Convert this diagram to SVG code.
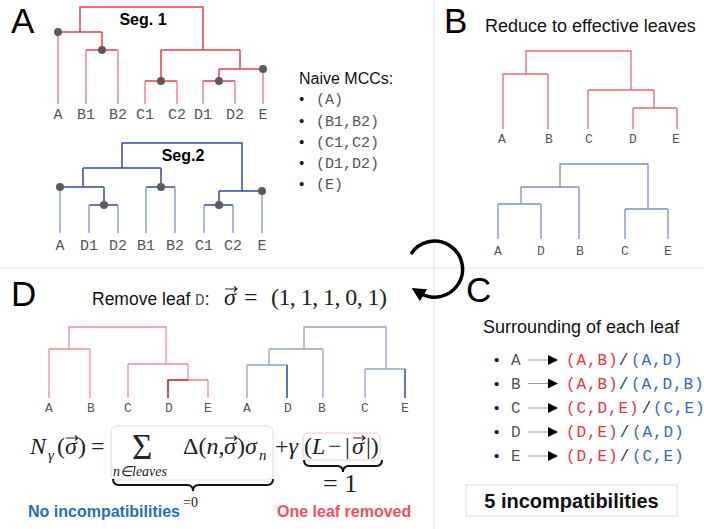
<svg xmlns="http://www.w3.org/2000/svg" width="704" height="529" viewBox="0 0 704 529">
<defs>
<style>
.pl{font-family:"Liberation Sans",Arial,sans-serif;font-size:35px;fill:#000}
.sans{font-family:"Liberation Sans",Arial,sans-serif;fill:#111}
.bold{font-family:"Liberation Sans",Arial,sans-serif;font-weight:bold}
.mono{font-family:"Liberation Mono","Courier New",monospace;fill:#555}
.lab{font-family:"Liberation Mono","Courier New",monospace;fill:#555;text-anchor:middle}
.math{font-family:"Liberation Serif","Times New Roman",serif;fill:#222}
.it{font-style:italic}
.ri{fill:none;stroke:#e2414e;stroke-width:1.5}
.rl{fill:none;stroke:#ee868d;stroke-width:1.5}
.bi{fill:none;stroke:#3049ad;stroke-width:1.5}
.bl{fill:none;stroke:#8c9fd9;stroke-width:1.5}
.rb{fill:none;stroke:#ec6770;stroke-width:1.3}
.bb{fill:none;stroke:#7a8fcf;stroke-width:1.3}
.dot{fill:#5b5b5b}
.div{stroke:#e2e2e2;stroke-width:1}
.red{fill:#e8323c}
.blue{fill:#3a66c4}
.vec{fill:none;stroke:#222;stroke-width:1.1}
</style>
<marker id="ah" viewBox="0 0 10 10" refX="2" refY="5" markerWidth="10" markerHeight="10" markerUnits="userSpaceOnUse" orient="auto"><path d="M0,0 L10,5 L0,10 z" fill="#000"/></marker>
<marker id="cah" viewBox="0 0 10 10" refX="3" refY="5" markerWidth="14" markerHeight="14" markerUnits="userSpaceOnUse" orient="auto"><path d="M0,0 L10,5 L0,10 z" fill="#000"/></marker>
</defs>
<rect width="704" height="529" fill="#fff"/>
<g id="dividers">
<line class="div" x1="434" y1="0" x2="434" y2="529"/>
<line class="div" x1="0" y1="268" x2="704" y2="268"/>
</g>

<g id="panelA">
<text class="pl" x="11" y="33">A</text>
<g id="seg1">
<path class="ri" d="M80 32V7H203V50M58 32H102M102 32V50M86 50H118M161 50H240M161 50V81M145 81H177M240 50V69M219 69H263M219 69V81M203 81H235"/>
<path class="rl" d="M58 32V104M86 50V104M118 50V104M145 81V104M177 81V104M203 81V104M235 81V104M263 69V104"/>
<circle class="dot" cx="58" cy="32" r="4"/><circle class="dot" cx="102" cy="50" r="4"/><circle class="dot" cx="161" cy="81" r="4"/><circle class="dot" cx="219" cy="81" r="4"/><circle class="dot" cx="263" cy="69" r="4"/>
<text class="bold" x="143" y="25" font-size="16" text-anchor="middle">Seg. 1</text>
<g font-size="15">
<text class="lab" x="58" y="119">A</text><text class="lab" x="86" y="119">B1</text><text class="lab" x="118" y="119">B2</text><text class="lab" x="145" y="119">C1</text><text class="lab" x="177" y="119">C2</text><text class="lab" x="203" y="119">D1</text><text class="lab" x="235" y="119">D2</text><text class="lab" x="263" y="119">E</text>
</g>
</g>
<g id="seg2">
<path class="bi" d="M122 168V143H242V191M83 168H161M83 168V187M60 187H104M104 187V205M89 205H118M161 168V187M146 187H175M219 191H262M219 191V205M204 205H233"/>
<path class="bl" d="M60 187V233M89 205V233M118 205V233M146 187V233M175 187V233M204 205V233M233 205V233M262 191V233"/>
<circle class="dot" cx="60" cy="187" r="4"/><circle class="dot" cx="104" cy="205" r="4"/><circle class="dot" cx="161" cy="187" r="4"/><circle class="dot" cx="219" cy="205" r="4"/><circle class="dot" cx="262" cy="191" r="4"/>
<text class="bold" x="183" y="161" font-size="16" text-anchor="middle">Seg.2</text>
<g font-size="15">
<text class="lab" x="60" y="250">A</text><text class="lab" x="89" y="250">D1</text><text class="lab" x="118" y="250">D2</text><text class="lab" x="146" y="250">B1</text><text class="lab" x="175" y="250">B2</text><text class="lab" x="204" y="250">C1</text><text class="lab" x="233" y="250">C2</text><text class="lab" x="262" y="250">E</text>
</g>
</g>
<g id="naive">
<text class="sans" x="299" y="84" font-size="16">Naive MCCs:</text>
<g class="sans" font-size="15"><text x="299" y="104">•</text><text x="299" y="125.5">•</text><text x="299" y="146.5">•</text><text x="299" y="167.5">•</text><text x="299" y="189">•</text></g>
<g class="mono" font-size="15"><text x="316" y="104">(A)</text><text x="316" y="125.5">(B1,B2)</text><text x="316" y="146.5">(C1,C2)</text><text x="316" y="167.5">(D1,D2)</text><text x="316" y="189">(E)</text></g>
</g>
</g>

<g id="panelB">
<text class="pl" x="444" y="33">B</text>
<text class="sans" x="485" y="32" font-size="18">Reduce to effective leaves</text>
<g id="treeB1">
<path class="rb" d="M526 74V51H631V90M503 74H548M588 90H654M654 90V108M633 108H677M503 74V129M548 74V129M588 90V129M633 108V129M677 108V129"/>
<g font-size="13"><text class="lab" x="502" y="143">A</text><text class="lab" x="549" y="143">B</text><text class="lab" x="589" y="143">C</text><text class="lab" x="633" y="143">D</text><text class="lab" x="676" y="143">E</text></g>
</g>
<g id="treeB2">
<path class="bb" d="M560 187V164H648V209M521 187H579M521 187V204M498 204H541M625 209H668M498 204V239M541 204V239M579 187V239M625 209V239M668 209V239"/>
<g font-size="13"><text class="lab" x="498" y="255">A</text><text class="lab" x="541" y="255">D</text><text class="lab" x="580" y="255">B</text><text class="lab" x="625" y="255">C</text><text class="lab" x="668" y="255">E</text></g>
</g>
</g>

<g id="cycle">
<path d="M411 254A28 28 0 1 1 420 293" fill="none" stroke="#000" stroke-width="3.5" marker-end="url(#cah)"/>
</g>

<g id="panelC">
<text class="pl" x="466" y="302">C</text>
<text class="sans" x="483" y="333" font-size="18">Surrounding of each leaf</text>
<g class="sans" font-size="15"><text x="494" y="365">•</text><text x="494" y="388.5">•</text><text x="494" y="413">•</text><text x="494" y="437">•</text><text x="494" y="461">•</text></g>
<g class="mono" font-size="16" fill="#333"><text x="511" y="365">A</text><text x="511" y="388.5">B</text><text x="511" y="413">C</text><text x="511" y="437">D</text><text x="511" y="461">E</text></g>
<g id="connectors" stroke="#999" stroke-width="1">
<line x1="528" y1="360" x2="550" y2="360" marker-end="url(#ah)"/>
<line x1="528" y1="383.5" x2="550" y2="383.5" marker-end="url(#ah)"/>
<line x1="528" y1="408" x2="550" y2="408" marker-end="url(#ah)"/>
<line x1="528" y1="432" x2="550" y2="432" marker-end="url(#ah)"/>
<line x1="528" y1="456" x2="550" y2="456" marker-end="url(#ah)"/>
</g>
<g class="mono" font-size="16" letter-spacing="0.9">
<text class="red" x="566" y="365">(A,B)</text><text x="624" y="365" text-anchor="middle" fill="#333">/</text><text class="blue" x="631" y="365">(A,D)</text>
<text class="red" x="566" y="388.5">(A,B)</text><text x="624" y="388.5" text-anchor="middle" fill="#333">/</text><text class="blue" x="631" y="388.5">(A,D,B)</text>
<text class="red" x="566" y="413">(C,D,E)</text><text x="647" y="413" text-anchor="middle" fill="#333">/</text><text class="blue" x="653" y="413">(C,E)</text>
<text class="red" x="566" y="437">(D,E)</text><text x="625" y="437" text-anchor="middle" fill="#333">/</text><text class="blue" x="632" y="437">(A,D)</text>
<text class="red" x="566" y="461">(D,E)</text><text x="625" y="461" text-anchor="middle" fill="#333">/</text><text class="blue" x="632" y="461">(C,E)</text>
</g>
<rect x="466" y="485" width="211" height="31" fill="none" stroke="#ddd" stroke-width="1"/>
<text class="bold" x="571.5" y="508" font-size="20" text-anchor="middle" fill="#111">5 incompatibilities</text>
</g>

<g id="panelD">
<text class="pl" x="11" y="306">D</text>
<text class="sans" x="92" y="305" font-size="17.5">Remove leaf <tspan class="mono" font-size="16" fill="#333">D</tspan>:</text>
<text class="math it" x="224" y="305" font-size="24">σ</text>
<path class="vec" d="M225 289H237M234 286.5L237 289L234 291.5"/>
<text class="math" x="244" y="305" font-size="24">=</text>
<text class="math" x="271" y="305" font-size="24" textLength="116">(1, 1, 1, 0, 1)</text>
<g id="treeD1">
<path fill="none" stroke="#ef8f95" stroke-width="1.3" d="M69 349V327H166V364M49 349H90M128 364H188M188 364V380M49 349V398M90 349V398M128 364V398M208 380V398"/>
<path fill="none" stroke="#d4101c" stroke-width="1.5" d="M168 398V380H188"/>
<path fill="none" stroke="#ec6770" stroke-width="1.3" d="M188 380H208"/>
<g font-size="13"><text class="lab" x="49" y="412">A</text><text class="lab" x="91" y="412">B</text><text class="lab" x="128" y="412">C</text><text class="lab" x="169" y="412">D</text><text class="lab" x="208" y="412">E</text></g>
</g>
<g id="treeD2">
<path fill="none" stroke="#8ea0d8" stroke-width="1.3" d="M304 349V327H386V369M269 349H323M269 349V365M247 365H287M365 369H405M247 365V398M323 349V398M365 369V398"/>
<path fill="none" stroke="#2f47a8" stroke-width="1.5" d="M287 365V398M405 369V398"/>
<g font-size="13"><text class="lab" x="247" y="412">A</text><text class="lab" x="288" y="412">D</text><text class="lab" x="322" y="412">B</text><text class="lab" x="365" y="412">C</text><text class="lab" x="405" y="412">E</text></g>
</g>
<g id="formula">
<rect x="111" y="426" width="162" height="54" rx="6" fill="none" stroke="#d3e0f2" stroke-width="1"/>
<rect x="303" y="433" width="77" height="27" rx="5" fill="none" stroke="#f5c7ca" stroke-width="1"/>
<text class="math it" x="30" y="454" font-size="24">N</text>
<text class="math it" x="48" y="460" font-size="15">γ</text>
<text class="math" x="57" y="454" font-size="24">(</text>
<text class="math it" x="65" y="454" font-size="24">σ</text>
<path class="vec" d="M66 438H78M75 435.5L78 438L75 440.5"/>
<text class="math" x="78" y="454" font-size="24">)</text>
<text class="math" x="91" y="454" font-size="24">=</text>
<text class="math" x="132" y="459" font-size="35">Σ</text>
<text class="math it" x="113" y="476" font-size="14">n∈leaves</text>
<text class="math" x="183" y="454" font-size="24">Δ(<tspan class="it">n</tspan>,</text>
<text class="math it" x="224" y="454" font-size="24">σ</text>
<path class="vec" d="M225 438H237M234 435.5L237 438L234 440.5"/>
<text class="math" x="237" y="454" font-size="24">)</text>
<text class="math it" x="245" y="454" font-size="24">σ</text>
<text class="math it" x="259" y="460" font-size="15">n</text>
<text class="math" x="275" y="454" font-size="24">+<tspan class="it">γ</tspan></text>
<text class="math" x="304" y="454" font-size="24">(</text>
<text class="math it" x="312" y="454" font-size="24">L</text>
<text class="math" x="328" y="454" font-size="24">−</text>
<text class="math" x="345" y="454" font-size="24">|</text>
<text class="math it" x="352" y="454" font-size="24">σ</text>
<path class="vec" d="M353 438H365M362 435.5L365 438L362 440.5"/>
<text class="math" x="366" y="454" font-size="24">|)</text>
<path d="M113 479Q113 485 119 485H187Q193 485 193 491Q193 485 199 485H267Q273 485 273 479" fill="none" stroke="#111" stroke-width="2"/>
<path d="M304 460Q304 466 310 466H337Q343 466 343 472Q343 466 349 466H376Q382 466 382 460" fill="none" stroke="#111" stroke-width="2"/>
<text class="math" x="183" y="507" font-size="14">=0</text>
<text class="math" x="323" y="492" font-size="26">= 1</text>
<text class="bold" x="28" y="517" font-size="16" fill="#1f6fbf">No incompatibilities</text>
<text class="bold" x="277" y="517" font-size="16" fill="#f0515b">One leaf removed</text>
</g>
</g>
</svg>
